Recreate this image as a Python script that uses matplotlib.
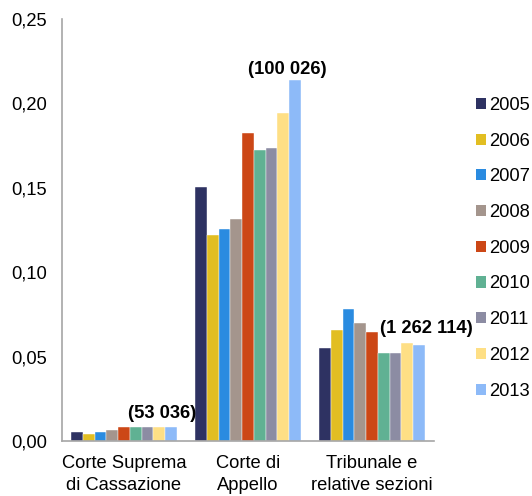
import matplotlib
matplotlib.use("Agg")
import matplotlib.pyplot as plt
import numpy as np
from matplotlib.patches import Patch

plt.rcParams['font.family'] = ['Liberation Sans', 'DejaVu Sans']

categories = ["Corte Suprema\ndi Cassazione", "Corte di\nAppello", "Tribunale e\nrelative sezioni"]
years = ["2005", "2006", "2007", "2008", "2009", "2010", "2011", "2012", "2013"]
values = {
    "2005": [0.0051, 0.1503, 0.0549],
    "2006": [0.0039, 0.1220, 0.0658],
    "2007": [0.0053, 0.1254, 0.0782],
    "2008": [0.0067, 0.1315, 0.0697],
    "2009": [0.0085, 0.1825, 0.0644],
    "2010": [0.0085, 0.1722, 0.0521],
    "2011": [0.0081, 0.1734, 0.0519],
    "2012": [0.0083, 0.1943, 0.0581],
    "2013": [0.0083, 0.2141, 0.0567],
}
colors = ["#2E3262", "#E2BE22", "#2A8BE0", "#A4958D", "#CC4716",
          "#60B193", "#8C8CA3", "#FEDF85", "#8DBAF8"]
annotations = ["(53 036)", "(100 026)", "(1 262 114)"]
ytick_labels = ["0,00", "0,05", "0,10", "0,15", "0,20", "0,25"]

FS = 13.2
fig = plt.figure(figsize=(5.32, 4.96), dpi=100)
ax = fig.add_axes([62/532, 1-441/496, (434-62)/532, (441-19)/496])

x = np.arange(len(categories))
w = 0.095
for i, y in enumerate(years):
    ax.bar(x + (i - 4) * w, values[y], width=w, color=colors[i], label=y,
           edgecolor='white', linewidth=0.3)

ax.set_xlim(-0.5, 2.5)
ax.set_ylim(0, 0.25)
ax.set_yticks(np.arange(0, 0.2501, 0.05))
ax.set_yticklabels(ytick_labels)
ax.set_xticks(x)
ax.set_xticklabels(categories, linespacing=1.36)
ax.tick_params(axis='y', length=0, pad=11, labelsize=FS)
ax.tick_params(axis='x', length=0, pad=10, labelsize=FS)
for s in ['top', 'right']:
    ax.spines[s].set_visible(False)
for s in ['left', 'bottom']:
    ax.spines[s].set_color('#A6A6A6')
    ax.spines[s].set_linewidth(1.2)

# annotations, placed relative to group maxima
offs = [(0.31, 0.0075), (1.315, 0.0057), (2.435, -0.0118)]
for k, txt in enumerate(annotations):
    top = max(values[y][k] for y in years)
    ax.text(offs[k][0], top + offs[k][1], txt, ha='center', va='center',
            fontsize=FS, fontweight='bold')

handles = [Patch(facecolor=c, edgecolor='none') for c in colors]
fig.legend(handles, years, loc='upper left', bbox_to_anchor=(476/532, 1-97/496),
           frameon=False, fontsize=FS, handlelength=0.55, handleheight=0.55,
           handletextpad=0.15, labelspacing=1.02, borderpad=0, borderaxespad=0)

fig.savefig("out.png", dpi=100)
